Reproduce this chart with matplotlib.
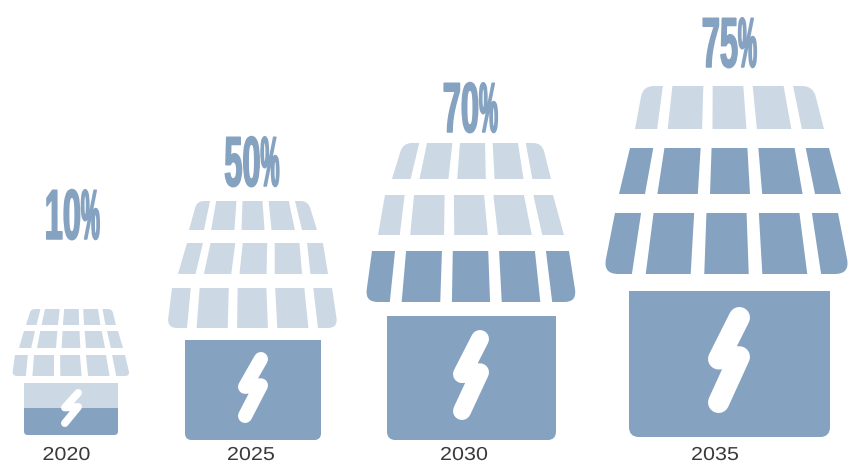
import numpy as np
import matplotlib
matplotlib.use("Agg")
import matplotlib.pyplot as plt
from matplotlib.patches import PathPatch, Rectangle
from matplotlib.path import Path
from matplotlib.patheffects import AbstractPathEffect

DARK = "#85A2C1"
LIGHT = "#CCD8E4"

years = ["2020", "2025", "2030", "2035"]
shares = ["10%", "50%", "70%", "75%"]
# how many roof rows are dark (counted from the eaves) and how full the box is
dark_rows = [0, 0, 1, 2]
box_fill = [0.52, 1.0, 1.0, 1.0]

# layout in pixels, y pointing down
year_x = [66.5, 251, 464, 715]
share_x = [73, 252.5, 471, 730]
share_base = [239, 186, 132, 67]
# each row: y top, y bottom, top left, top right, bottom left, bottom right
roofs = [
    [(309, 325, 31, 112, 26, 116), (331, 348, 24, 118, 19, 123), (355, 376, 15, 125, 12, 130)],
    [(201, 230, 197, 308, 189, 317), (243, 274, 187, 323, 178, 328), (288, 328, 172, 332, 167, 338)],
    [(143, 179, 403, 542, 392, 551), (195, 235, 385, 553, 378, 564), (251, 302, 372, 569, 365, 577)],
    [(86, 129, 643, 813, 635, 824), (148, 194, 630, 829, 619, 841), (213, 274, 615, 838, 603, 850)],
]
boxes = [(24, 118, 383, 435), (185, 321, 340, 440), (387, 556, 316, 440), (629, 830, 291, 437)]
bolts = [(61, 82, 389, 427), (238, 268, 352, 423), (453, 489, 330, 420), (708, 750, 307, 413)]

# tile edges across a roof row, as fractions of its width
tile_edges = [0, .117, .173, .355, .41, .59, .645, .827, .883, 1]


class Squeeze(AbstractPathEffect):
    """Rescale glyphs sideways around their middle, optionally with an outline.

    Glyphs past `split` (text path units, 100 per em) get their own factor.
    """

    def __init__(self, sx, stroke=0.0, split=None, sx_rest=None):
        super().__init__()
        self.sx = sx
        self.stroke = stroke
        self.split = split
        self.sx_rest = sx_rest

    def draw_path(self, renderer, gc, tpath, affine, rgbFace=None):
        x = tpath.vertices[:, 0]
        if self.split is None:
            new_x = x * self.sx
        else:
            new_x = np.where(x < self.split, x * self.sx,
                             self.split * self.sx + (x - self.split) * self.sx_rest)
        new_x = new_x + (x.min() + x.max() - new_x.min() - new_x.max()) / 2
        squeezed = Path(np.column_stack([new_x, tpath.vertices[:, 1]]), tpath.codes)
        gc0 = renderer.new_gc()
        gc0.copy_properties(gc)
        if self.stroke:
            gc0.set_foreground(rgbFace)
            gc0.set_linewidth(self.stroke)
        renderer.draw_path(gc0, squeezed, affine, rgbFace)
        gc0.restore()


def rounded_poly(pts, radii):
    verts, codes = [], []
    n = len(pts)
    for i in range(n):
        p = np.array(pts[i], float)
        a = np.array(pts[i - 1], float)
        b = np.array(pts[(i + 1) % n], float)
        r = radii[i]
        start = p + (a - p) / np.linalg.norm(a - p) * r
        end = p + (b - p) / np.linalg.norm(b - p) * r
        verts.append(start)
        codes.append(Path.MOVETO if i == 0 else Path.LINETO)
        if r > 0:
            verts += [p, end]
            codes += [Path.CURVE3, Path.CURVE3]
    verts.append(verts[0])
    codes.append(Path.CLOSEPOLY)
    return Path(verts, codes)


def draw_roof(ax, rows, n_dark):
    for r, (yt, yb, tl, tr, bl, br) in enumerate(rows):
        color = DARK if r >= len(rows) - n_dark else LIGHT
        rad = (yb - yt) * 0.25
        for k in range(5):
            f0, f1 = tile_edges[2 * k], tile_edges[2 * k + 1]
            pts = [
                (tl + (tr - tl) * f0, yt), (tl + (tr - tl) * f1, yt),
                (bl + (br - bl) * f1, yb), (bl + (br - bl) * f0, yb),
            ]
            radii = [0, 0, 0, 0]
            # only the outer corners of the top and bottom rows are rounded
            if r == 0 and k == 0:
                radii[0] = rad
            if r == 0 and k == 4:
                radii[1] = rad
            if r == len(rows) - 1 and k == 0:
                radii[3] = rad
            if r == len(rows) - 1 and k == 4:
                radii[2] = rad
            ax.add_patch(PathPatch(rounded_poly(pts, radii), fc=color, ec="none"))


def draw_box(ax, box, fill):
    x0, x1, y0, y1 = box
    rad = (y1 - y0) * 0.07 if fill == 1 else 4
    pts = [(x0, y0), (x1, y0), (x1, y1), (x0, y1)]
    shape = PathPatch(rounded_poly(pts, [0, 0, rad, rad]), fc=LIGHT, ec="none")
    ax.add_patch(shape)
    top = y1 - (y1 - y0) * fill
    level = Rectangle((x0, top), x1 - x0, y1 - top, fc=DARK, ec="none")
    ax.add_patch(level)
    level.set_clip_path(shape)


def draw_bolt(ax, bolt):
    x0, x1, y0, y1 = bolt
    h = y1 - y0
    w = h * 0.2
    xs = [x1 - w / 2, x0 + w / 2, x1 - w / 2, x0 + w / 2]
    ys = [y0 + w / 2, y0 + h * 0.49, y0 + h * 0.47, y1 - w / 2]
    ax.plot(xs, ys, color="white", lw=w * 0.72, solid_capstyle="round",
            solid_joinstyle="round", zorder=5)


fig = plt.figure(figsize=(8.49, 4.63), dpi=100)
ax = fig.add_axes([0, 0, 1, 1])
ax.set_xlim(0, 849)
ax.set_ylim(463, 0)
ax.axis("off")

for i in range(len(years)):
    draw_roof(ax, roofs[i], dark_rows[i])
    draw_box(ax, boxes[i], box_fill[i])
    draw_bolt(ax, bolts[i])
    ax.text(share_x[i], share_base[i], shares[i], color=DARK, fontsize=51,
            fontweight="bold", family="Liberation Sans", ha="center", va="baseline",
            path_effects=[Squeeze(0.46, 1.1, split=111.2, sx_rest=0.3)])
    ax.text(year_x[i], 464, years[i], color="#3A3A3A", fontsize=13.5,
            family="Liberation Sans", ha="center", va="bottom",
            path_effects=[Squeeze(1.15)])

fig.savefig("out.png", dpi=100)
